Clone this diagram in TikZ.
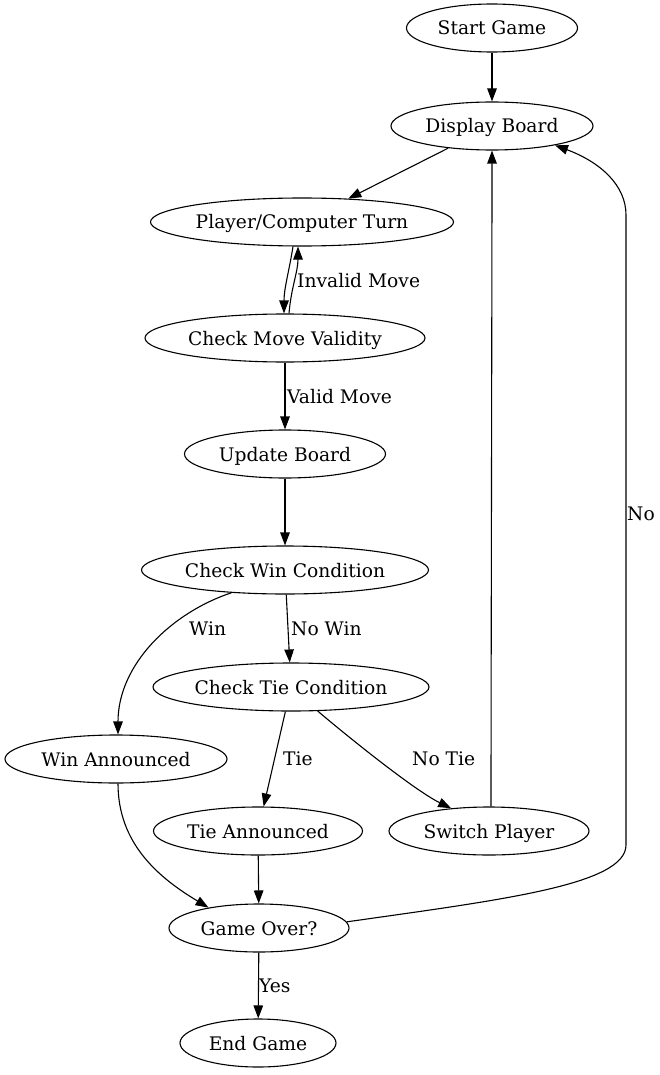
\documentclass[tikz,border=0pt]{standalone}
\usepackage{fontspec}
\setmainfont{DejaVu Serif}
\usetikzlibrary{arrows.meta,shapes.geometric}
\begin{document}
\begin{tikzpicture}[x=1pt,y=-1pt]
    \tikzset{every node/.style={font=\fontsize{18.67}{22}\selectfont,text height=17.5pt,text depth=3.5pt},
        state/.style={draw,ellipse,line width=1.1pt,minimum height=48pt,minimum width=#1,inner xsep=0pt,inner ysep=2pt},
        lbl/.style={anchor=west,inner sep=0pt},
        link/.style={line width=1.1pt,-{Triangle[length=13pt,width=9.5pt]}}}
    \useasboundingbox (0,0) rectangle (660,1075);
    \node[state=171pt] (start) at (492,28) {Start Game};
    \node[state=202pt] (display) at (492,126) {Display Board};
    \node[state=303pt] (turn) at (302,222) {Player/Computer Turn};
    \node[state=280pt] (check) at (285,338) {Check Move Validity};
    \node[state=201pt] (update) at (285,454) {Update Board};
    \node[state=287pt] (wincheck) at (285,570) {Check Win Condition};
    \node[state=276pt] (tiecheck) at (291,687) {Check Tie Condition};
    \node[state=222pt] (winann) at (116,759) {Win Announced};
    \node[state=209pt] (tieann) at (258,831) {Tie Announced};
    \node[state=200pt] (switch) at (489,831) {Switch Player};
    \node[state=180pt] (gameover) at (259,928) {Game Over?};
    \node[state=156pt] (endgame) at (258,1043) {End Game};
    \draw[link] (start) -- (display);
    \draw[link] (display) -- (turn);
    \draw[link] ([xshift=-9pt]turn.south) .. controls +(-4,25) and +(0,-25) .. ([xshift=-1pt]check.north);
    \draw[link] ([xshift=4pt]check.north) .. controls +(2,-25) and +(0,25) .. ([xshift=-4pt]turn.south);
    \node[lbl] (invalidlbl) at (297,280) {Invalid Move};
    \draw[link] (check) -- (update);
    \node[lbl] (validlbl) at (287,396) {Valid Move};
    \draw[link] (update) -- (wincheck);
    \draw[link] (wincheck.203) .. controls +(-60,20) and +(0,-70) .. ([xshift=2pt]winann.north);
    \node[lbl] (winlbl) at (189,628) {Win};
    \draw[link] (wincheck) -- (tiecheck);
    \node[lbl] (nowinlbl) at (291,628) {No Win};
    \draw[link] (tiecheck) -- (tieann);
    \node[lbl] (tielbl) at (283,758) {Tie};
    \draw[link] (tiecheck.318) .. controls +(27,23) and +(-37,-18) .. (switch.149);
    \node[lbl] (notielbl) at (412,758) {No Tie};
    \draw[link] ([xshift=2pt]switch.north) .. controls +(0,-100) and +(0,100) .. (display.south);
    \draw[link] ([xshift=2pt]winann.south) .. controls +(0,60) and +(-50,-30) .. (gameover.158);
    \draw[link] (tieann) -- (gameover);
    \draw[link] (gameover.4) .. controls (500,900) and (626,885) .. (626,845) -- (626,215)
        .. controls (626,185) and (600,162) .. (display.343);
    \node[lbl] (nolbl) at (627,513) {No};
    \draw[link] (gameover) -- (endgame);
    \node[lbl] (yeslbl) at (259,985) {Yes};
\end{tikzpicture}
\end{document}
